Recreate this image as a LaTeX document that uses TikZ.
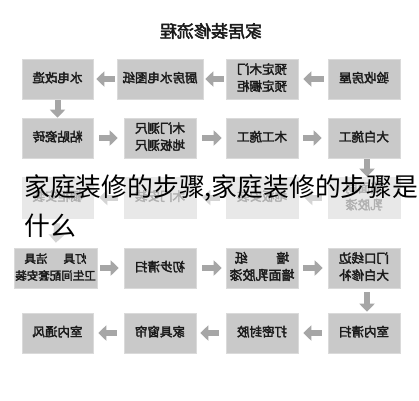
\documentclass[tikz,border=0pt]{standalone}
\usepackage{fontspec}
\usepackage{graphicx}
\newfontfamily\cjk{Noto Sans CJK SC}
\newfontfamily\cjkb{Noto Sans CJK SC}[FakeBold=2.6]
\usetikzlibrary{arrows.meta}
\definecolor{boxfill}{HTML}{C9C9C9}
\definecolor{boxline}{HTML}{DADADA}
\definecolor{arrowgray}{HTML}{A6A6A6}
\definecolor{fadefill}{HTML}{E8E8E8}
\definecolor{fadetext}{HTML}{B0B0B0}
\definecolor{fadearrow}{HTML}{D4D4D4}
\definecolor{txt}{HTML}{1A1A1A}
\newcommand\mir[1]{\reflectbox{\begin{tabular}{@{}c@{}}#1\end{tabular}}}
\begin{document}
\begin{tikzpicture}[x=1pt,y=-1pt,
  box/.style={draw=boxline, line width=0.6pt, fill=boxfill, inner sep=0pt,
    text=txt, minimum width=72pt, minimum height=40pt,
    font=\cjkb\fontsize{12.5}{17}\selectfont},
  fadebox/.style={box, fill=fadefill, draw=fadefill, text=fadetext},
  blk/.style={draw=arrowgray, line width=6pt, -{Triangle[width=15pt,length=8pt]}},
  fadeblk/.style={blk, draw=fadearrow},
  overlay text/.style={anchor=west, inner sep=0pt, text=black,
    font=\cjk\fontsize{25.8}{30}\selectfont}]
\useasboundingbox[fill=white] (0,0) rectangle (419,400);

\node[text=txt, inner sep=0pt] (title) at (211,31)
  {\reflectbox{\cjkb\fontsize{17}{20}\selectfont 家居装修流程}};

% row 1
\node[box, minimum width=71pt] (r1a) at (57.5,79) {\mir{水电改造}};
\node[box, minimum width=86pt] (r1b) at (160,79) {\mir{厨房水电图纸}};
\node[box] (r1c) at (262,79) {\mir{预定木门\\预定橱柜}};
\node[box] (r1d) at (364,79) {\mir{验收房屋}};
% row 2
\node[box, minimum width=71pt] (r2a) at (57.5,138) {\mir{粘贴瓷砖}};
\node[box] (r2b) at (160,138) {\mir{木门测尺\\地板测尺}};
\node[box] (r2c) at (262,138) {\mir{木工施工}};
\node[box] (r2d) at (364,138) {\mir{大白施工}};
% row 3 (faded)
\node[fadebox, minimum width=71pt, minimum height=41pt] (r3a) at (57.5,197.5) {\mir{橱柜安装}};
\node[fadebox, minimum height=41pt] (r3b) at (160,197.5) {\mir{木门安装}};
\node[fadebox, minimum height=41pt] (r3c) at (262,197.5) {\mir{地板安装}};
\node[fadebox, minimum height=41pt] (r3d) at (364,197.5) {\mir{墙面刷\\乳胶漆}};
% row 4
\node[box, minimum width=83pt, font=\cjkb\fontsize{11.5}{17}\selectfont] (r4a) at (55.5,268)
  {\mir{灯具\hspace{1.4em}洁具\\卫生间配套安装}};
\node[box] (r4b) at (160,268) {\mir{初步清扫}};
\node[box, font=\cjkb\fontsize{13}{17}\selectfont] (r4c) at (262,268) {\mir{墙\hspace{2.2em}纸\\墙面乳胶漆}};
\node[box] (r4d) at (364,268) {\mir{门口线边\\大白修补}};
% row 5
\node[box, minimum width=71pt] (r5a) at (57.5,333) {\mir{室内通风}};
\node[box] (r5b) at (160,333) {\mir{家具窗帘}};
\node[box] (r5c) at (262,333) {\mir{打密封胶}};
\node[box] (r5d) at (364,333) {\mir{室内清扫}};

% connectors row 1
\draw[blk, shorten <=4pt, shorten >=5pt] (r1d.west) -- (r1c.east);
\draw[blk, shorten <=2pt, shorten >=2pt] (r1c.west) -- (r1b.east);
\draw[blk, shorten <=2pt, shorten >=3pt] (r1b.west) -- (r1a.east);
\draw[blk, shorten <=1pt, shorten >=0pt] (r1a.south) -- (r2a.north);
% row 2
\draw[blk, shorten <=6pt, shorten >=6pt] (r2a.east) -- (r2b.west);
\draw[blk, shorten <=6pt, shorten >=4pt] (r2b.east) -- (r2c.west);
\draw[blk, shorten <=5pt, shorten >=6pt] (r2c.east) -- (r2d.west);
\draw[blk, shorten <=1pt, shorten >=0pt] ([xshift=3pt]r2d.south) -- ([xshift=3pt]r3d.north);
% row 3
\draw[fadeblk, shorten <=6pt, shorten >=6pt] (r3d.west) -- (r3c.east);
\draw[fadeblk, shorten <=6pt, shorten >=6pt] (r3c.west) -- (r3b.east);
\draw[fadeblk, shorten <=6pt, shorten >=6pt] (r3b.west) -- (r3a.east);
\draw[fadeblk, shorten <=5pt, shorten >=5pt] (r3a.south) -- (r4a.north);
% row 4
\draw[blk, shorten <=3pt, shorten >=5pt] (r4a.east) -- (r4b.west);
\draw[blk, shorten <=6pt, shorten >=4pt] (r4b.east) -- (r4c.west);
\draw[blk, shorten <=5pt, shorten >=5pt] (r4c.east) -- (r4d.west);
\draw[blk, shorten <=4pt, shorten >=1pt] ([xshift=3pt]r4d.south) -- ([xshift=3pt]r5d.north);
% row 5
\draw[blk, shorten <=6pt, shorten >=5pt] (r5d.west) -- (r5c.east);
\draw[blk, shorten <=7pt, shorten >=4pt] (r5c.west) -- (r5b.east);
\draw[blk, shorten <=7pt, shorten >=5pt] (r5b.west) -- (r5a.east);

% overlay caption
\node[overlay text] (cap1) at (24,188) {家庭装修的步骤,家庭装修的步骤是};
\node[overlay text] (cap2) at (24,226) {什么};
\end{tikzpicture}
\end{document}
